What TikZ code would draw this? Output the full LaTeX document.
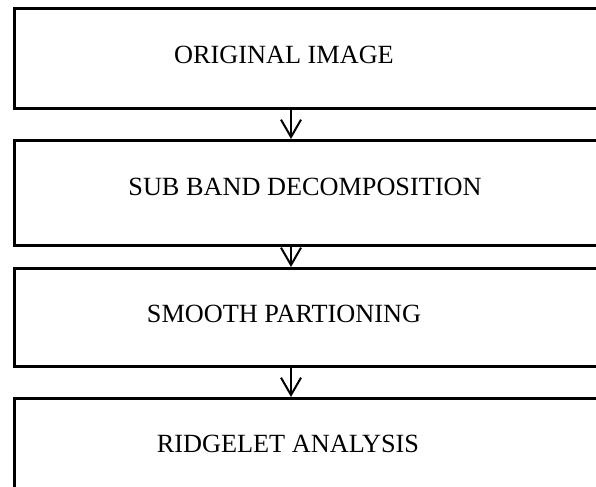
\documentclass[tikz,border=0pt]{standalone}
\usepackage{fontspec}
\setmainfont{Liberation Serif}
\usetikzlibrary{arrows.meta}
\begin{document}
\begin{tikzpicture}[x=0.75pt,y=-0.75pt,
  stagebox/.style={draw=black,line width=2.25pt,rectangle,inner sep=0pt,anchor=north west},
  lbl/.style={anchor=base,inner sep=0pt,font=\fontsize{19.7pt}{22pt}\selectfont},
  flow/.style={line width=1.5pt,-{Straight Barb[length=13pt,width=15pt,line width=1.5pt]}}]
\useasboundingbox (0,0) rectangle (596,486);
\clip (0,0) rectangle (596,486);
\node[stagebox,minimum width=450pt,minimum height=75pt] (b1) at (13,7) {};
\node[stagebox,minimum width=450pt,minimum height=78.75pt] (b2) at (13,139) {};
\node[stagebox,minimum width=450pt,minimum height=73.5pt] (b3) at (13,267) {};
\node[stagebox,minimum width=450pt,minimum height=75pt] (b4) at (13,397) {};
\node[lbl] (t1) at (284,63) {ORIGINAL IMAGE};
\node[lbl] (t2) at (305,195) {SUB BAND DECOMPOSITION};
\node[lbl] (t3) at (284,322) {SMOOTH PARTIONING};
\node[lbl] (t4) at (288,452) {RIDGELET ANALYSIS};
\coordinate (ax) at (291,0);
\draw[flow] (b1.south -| ax) -- (b2.north -| ax);
\draw[flow] (b2.south -| ax) -- (b3.north -| ax);
\draw[flow] (b3.south -| ax) -- (b4.north -| ax);
\end{tikzpicture}
\end{document}
